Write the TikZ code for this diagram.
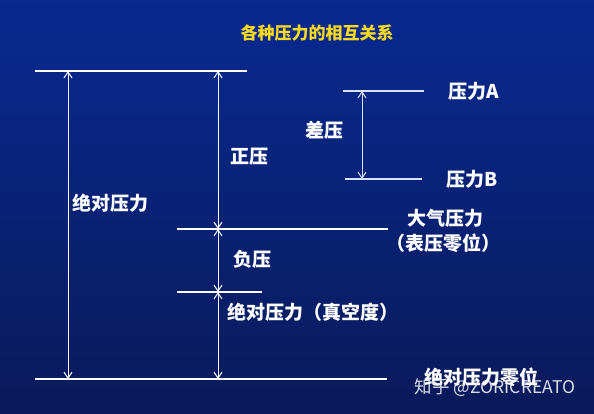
\documentclass[tikz,border=0pt]{standalone}
\usepackage{fontspec}
\newfontfamily\cjk{Noto Sans CJK SC}
\usetikzlibrary{arrows.meta}
\definecolor{bgtop}{RGB}{8,42,145}
\definecolor{bgmid}{RGB}{0,48,172}
\definecolor{bgbot}{RGB}{10,26,90}
\definecolor{titleyellow}{RGB}{250,218,30}
\definecolor{softwhite}{RGB}{215,225,250}
\tikzset{
  level/.style={white, line width=1.1pt},
  softlevel/.style={softwhite, line width=1.1pt},
  dim/.style={white, line width=1pt, {Straight Barb[length=6pt,width=8pt]}-{Straight Barb[length=6pt,width=8pt]}},
  softdim/.style={softwhite, line width=1pt, {Straight Barb[length=6pt,width=8pt]}-{Straight Barb[length=6pt,width=8pt]}},
  lbl/.style={text=white, font=\cjk\bfseries\fontsize{19}{21}\selectfont, inner sep=0pt},
  ttl/.style={text=titleyellow, font=\cjk\bfseries\fontsize{17}{19}\selectfont, inner sep=0pt},
  wm/.style={text=white, opacity=0.85, font=\cjk\fontsize{17.5}{19}\selectfont, inner sep=0pt}
}
\begin{document}
\begin{tikzpicture}[x=1pt,y=-1pt]
\useasboundingbox (0,0) rectangle (594,413);
\shade[top color=bgtop, middle color=bgmid, bottom color=bgbot] (0,0) rectangle (594,413);

% title
\node[ttl] (title) at (317,33) {各种压力的相互关系};

% level coordinates
\coordinate (topL) at (35,71);
\coordinate (topR) at (247,71);
\coordinate (atmL) at (177,229);
\coordinate (atmR) at (388,229);
\coordinate (vacL) at (177,292);
\coordinate (vacR) at (262,292);
\coordinate (botL) at (35,379);
\coordinate (botR) at (387,379);
\coordinate (aL) at (343,91);
\coordinate (aR) at (424,91);
\coordinate (bL) at (345,179);
\coordinate (bR) at (422,179);

\draw[level] (topL) -- (topR);
\draw[level] (atmL) -- (atmR);
\draw[level] (vacL) -- (vacR);
\draw[level] (botL) -- (botR);
\draw[softlevel] (aL) -- (aR);
\draw[softlevel] (bL) -- (bR);

% arrow end points
\coordinate (abs1) at (68,71);
\coordinate (abs2) at (68,379);
\coordinate (p1) at (218,71);
\coordinate (p2) at (218,229);
\coordinate (p3) at (218,292);
\coordinate (p4) at (218,379);
\coordinate (d1) at (362,91);
\coordinate (d2) at (362,179);

\draw[dim] (abs1) -- (abs2);
\draw[dim] (p1) -- (p2);
\draw[dim] (p2) -- (p3);
\draw[dim] (p3) -- (p4);
\draw[softdim] (d1) -- (d2);

% labels
\node[lbl] (la) at (474,91) {压力A};
\node[lbl] (lb) at (472,179) {压力B};
\node[lbl] (ldiff) at (324,130) {差压};
\node[lbl] (lpos) at (249,157) {正压};
\node[lbl] (labs) at (110,203) {绝对压力};
\node[lbl] (latm) at (445,218) {大气压力};
\node[lbl] (lgz) at (443,243) {（表压零位）};
\node[lbl] (lneg) at (252,259) {负压};
\node[lbl] (lvac) at (313,312) {绝对压力（真空度）};
\node[lbl] (lzero) at (481,377) {绝对压力零位};
\node[wm] (wmark) at (495,388) {知乎 @ZORICREATO};
\end{tikzpicture}
\end{document}
